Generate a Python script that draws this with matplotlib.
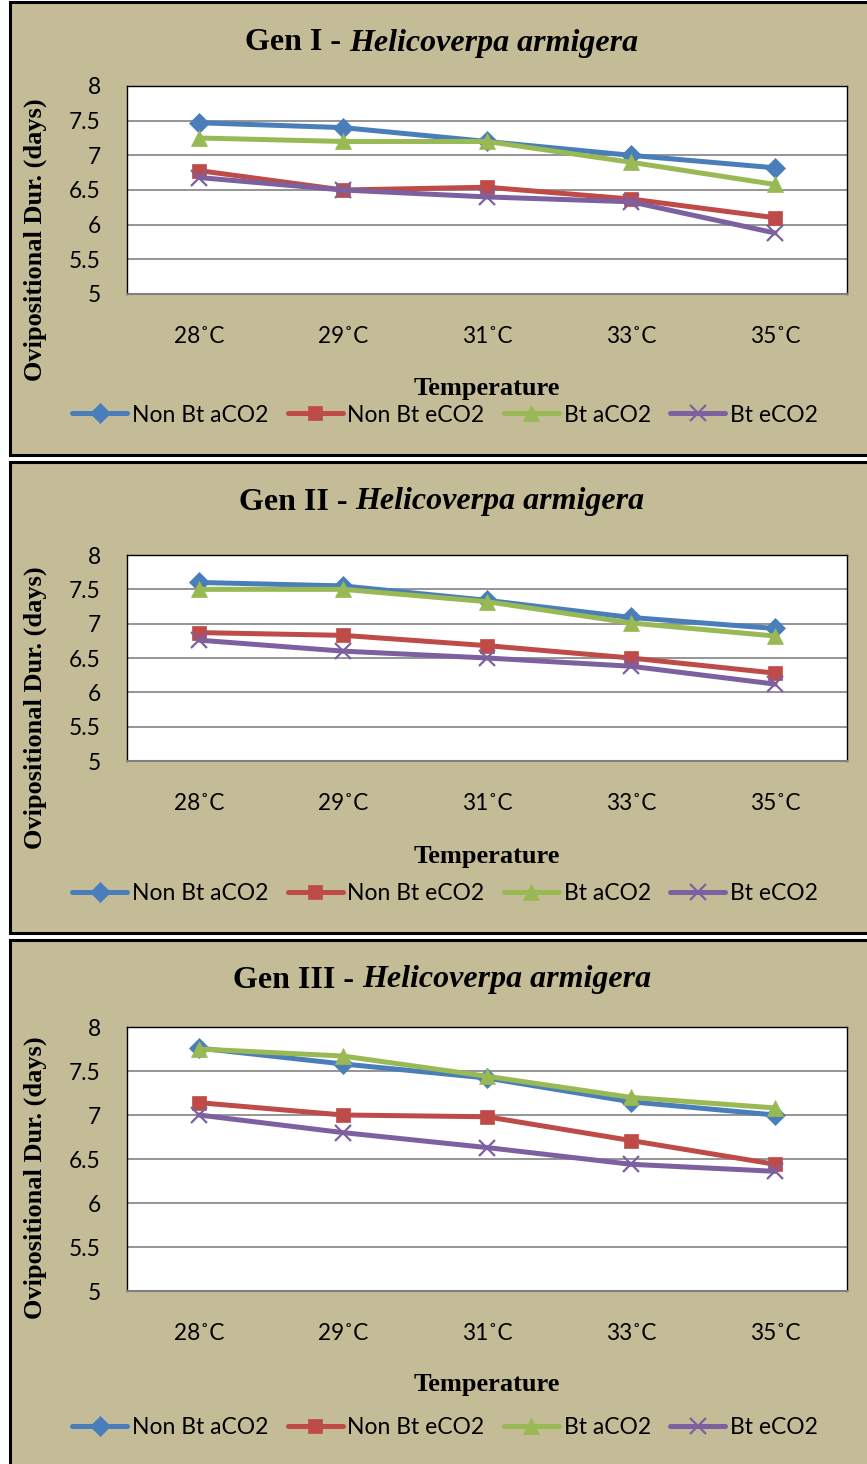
import matplotlib
matplotlib.use("Agg")
import matplotlib.pyplot as plt
from matplotlib.patches import Rectangle

# ---- data -------------------------------------------------------------
temperatures = ["28˚C", "29˚C", "31˚C", "33˚C", "35˚C"]
series_names = ["Non Bt aCO2", "Non Bt eCO2", "Bt aCO2", "Bt eCO2"]

gen1_non_bt_aco2 = [7.47, 7.40, 7.20, 7.00, 6.82]
gen1_non_bt_eco2 = [6.78, 6.50, 6.54, 6.37, 6.10]
gen1_bt_aco2 = [7.25, 7.20, 7.20, 6.90, 6.58]
gen1_bt_eco2 = [6.68, 6.50, 6.40, 6.33, 5.88]

gen2_non_bt_aco2 = [7.60, 7.55, 7.34, 7.09, 6.93]
gen2_non_bt_eco2 = [6.87, 6.83, 6.68, 6.50, 6.28]
gen2_bt_aco2 = [7.50, 7.50, 7.32, 7.01, 6.82]
gen2_bt_eco2 = [6.76, 6.60, 6.50, 6.38, 6.12]

gen3_non_bt_aco2 = [7.76, 7.58, 7.42, 7.15, 7.00]
gen3_non_bt_eco2 = [7.14, 7.00, 6.98, 6.71, 6.44]
gen3_bt_aco2 = [7.75, 7.67, 7.44, 7.20, 7.08]
gen3_bt_eco2 = [7.00, 6.80, 6.63, 6.44, 6.36]

y_ticks = [5, 5.5, 6, 6.5, 7, 7.5, 8]
y_tick_labels = ["5", "5.5", "6", "6.5", "7", "7.5", "8"]

generations = ["I", "II", "III"]

# ---- styling ----------------------------------------------------------
W, H = 867, 1464
DPI = 100
BG = "#C4BC97"
COLORS = ["#4A7EBB", "#BE4B48", "#98B954", "#7D60A0"]
MARKERS = ["D", "s", "^", "x"]
MSIZES = [10, 10.5, 12, 11]
SANS = ["Lato", "DejaVu Sans"]
SERIF = ["Liberation Serif", "DejaVu Serif"]
TICK_FS = 16.3
LEG_FS = 16.5

fig = plt.figure(figsize=(W / DPI, H / DPI), dpi=DPI)
fig.patch.set_facecolor("white")
renderer = fig.canvas.get_renderer()


def fx(px):
    return px / W


def fy(py):
    return 1 - py / H


# panel layout in pixels: box top/bottom, plot top/bottom, title, xlabel, legend, ylabel centre
panels = [
    dict(box=(2, 455), plot=(86, 294), title=43, xlab=388, leg=415, ylab=240,
         data=[gen1_non_bt_aco2, gen1_non_bt_eco2, gen1_bt_aco2, gen1_bt_eco2]),
    dict(box=(462, 933), plot=(555, 761), title=502, xlab=857, leg=894, ylab=708,
         data=[gen2_non_bt_aco2, gen2_non_bt_eco2, gen2_bt_aco2, gen2_bt_eco2]),
    dict(box=(940, 1470), plot=(1027, 1291), title=980, xlab=1385, leg=1428, ylab=1178,
         data=[gen3_non_bt_aco2, gen3_non_bt_eco2, gen3_bt_aco2, gen3_bt_eco2]),
]

PLOT_L, PLOT_R = 127, 847
BOX_L, BOX_R = 10, 875
TITLE_CX = 442

for gen, p in zip(generations, panels):
    top, bot = p["box"]
    box = Rectangle((fx(BOX_L), fy(bot)), fx(BOX_R - BOX_L), (bot - top) / H,
                    transform=fig.transFigure, facecolor=BG,
                    edgecolor="black", linewidth=2.2, zorder=-5)
    fig.add_artist(box)

    pt, pb = p["plot"]
    ax = fig.add_axes([fx(PLOT_L), fy(pb), fx(PLOT_R - PLOT_L), (pb - pt) / H])
    ax.set_zorder(2)
    ax.set_facecolor("white")
    x = list(range(len(temperatures)))
    for vals, c, m, ms, name in zip(p["data"], COLORS, MARKERS, MSIZES, series_names):
        ax.plot(x, vals, color=c, lw=3.6, marker=m, markersize=ms,
                markeredgewidth=1.6 if m == "x" else 0.5,
                markeredgecolor=c, markerfacecolor=c, label=name,
                solid_joinstyle="round", solid_capstyle="round")
    ax.set_xlim(-0.5, len(temperatures) - 0.5)
    ax.set_ylim(5, 8)
    ax.set_yticks(y_ticks)
    ax.set_yticklabels(y_tick_labels, family=SANS, fontsize=TICK_FS)
    ax.set_xticks(x)
    ax.set_xticklabels(temperatures, family=SANS, fontsize=TICK_FS)
    ax.tick_params(axis="x", length=0, pad=23)
    ax.tick_params(axis="y", length=0, pad=19)
    ax.yaxis.grid(True, color="#8C8C8C", lw=1.3)
    ax.set_axisbelow(True)
    for s in ["top", "left", "right"]:
        ax.spines[s].set_color("black")
        ax.spines[s].set_linewidth(1.0)
    ax.spines["bottom"].set_color("#7F7F7F")
    ax.spines["bottom"].set_linewidth(1.5)

    # title: upright "Gen N - " followed by the italic species name, centred as one line
    t1 = fig.text(0, fy(p["title"]), f"Gen {gen} - ", ha="left", va="center",
                  family=SERIF, fontweight="bold", fontsize=23)
    t2 = fig.text(0, fy(p["title"]), "Helicoverpa armigera", ha="left", va="center",
                  family=SERIF, fontweight="bold", style="italic", fontsize=23)
    w1 = t1.get_window_extent(renderer).width
    w2 = t2.get_window_extent(renderer).width
    start = TITLE_CX - (w1 + w2) / 2
    t1.set_x(fx(start))
    t2.set_x(fx(start + w1))

    fig.text(fx(487), fy(p["xlab"]), "Temperature", ha="center", va="center",
             family=SERIF, fontweight="bold", fontsize=19)
    fig.text(fx(35), fy(p["ylab"]), "Ovipositional Dur. (days)", ha="center",
             va="center", rotation=90, family=SERIF, fontweight="bold", fontsize=19)

    ax.legend(loc="center", bbox_to_anchor=(fx(445), fy(p["leg"])),
              bbox_transform=fig.transFigure, ncol=4, frameon=False,
              prop=dict(family=SANS, size=LEG_FS), handlelength=2.4,
              handletextpad=0.2, columnspacing=0.85, borderaxespad=0)

fig.savefig("out.png", dpi=DPI, facecolor="white")
